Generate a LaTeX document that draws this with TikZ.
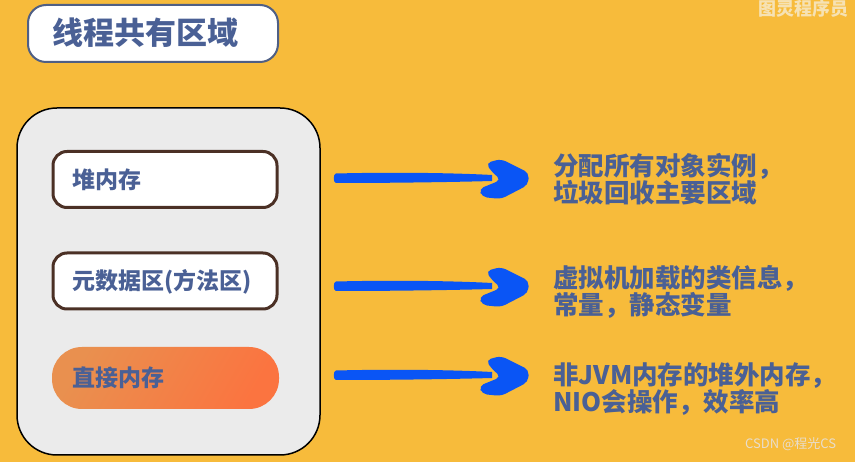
\documentclass[tikz,border=0pt]{standalone}
\usepackage{fontspec}
\newfontfamily\cjk{Noto Sans CJK SC}
\definecolor{bg}{HTML}{F7BB3B}
\definecolor{textblue}{HTML}{4A6095}
\definecolor{titleborder}{HTML}{4F5F85}
\definecolor{boxborder}{HTML}{4B3025}
\definecolor{poolgray}{HTML}{EBEBEB}
\definecolor{brushblue}{HTML}{0A55F5}
\definecolor{orangeA}{HTML}{E9904F}
\definecolor{orangeB}{HTML}{FB7440}
\definecolor{wmark}{HTML}{F6E2B4}
\definecolor{wmarkb}{HTML}{E8DDCB}
\tikzset{
  memlabel/.style={font=\cjk\bfseries\fontsize{23}{26}\selectfont, text=textblue},
  membox/.style={draw=boxborder, line width=3pt, fill=white, rounded corners=14pt,
     minimum width=224pt, minimum height=56pt, inner sep=0pt},
  desc/.style={font=\cjk\bfseries\fontsize{25.5}{27}\selectfont, text=textblue,
     align=left, anchor=west, inner sep=0pt},
  brusharrow/.pic={
    \fill[brushblue] (0,-4.5) .. controls (60,-6) and (120,-5) .. (156,-3)
        -- (156,3) .. controls (120,4) and (60,5) .. (0,5)
        .. controls (-3,5) and (-3,-4.5) .. (0,-4.5) -- cycle;
    \fill[brushblue, rounded corners=5pt] (150,-15) -- (165,-19) -- (193,-5) -- (192,7)
        -- (165,21) -- (146,19) -- (143,11) -- (165,2) -- (155,-7) -- cycle;
  }
}
\begin{document}
\begin{tikzpicture}[x=1pt,y=-1pt]
\useasboundingbox (0,0) rectangle (855,462);
\fill[bg] (0,0) rectangle (855,462);
% watermark top
\node[font=\cjk\bfseries\fontsize{18}{20}\selectfont, text=wmark, anchor=base west, inner sep=0pt] (wm1) at (758,16) {图灵程序员};
% title
\node[draw=titleborder, line width=2pt, fill=white, rounded corners=18pt,
      minimum width=250pt, minimum height=57pt, inner sep=0pt] (title) at (153,33.5) {};
\node[font=\cjk\bfseries\fontsize{31}{34}\selectfont, text=textblue, anchor=west, inner sep=0pt] (titletext) at (52,33) {线程共有区域};
% pool
\draw[fill=poolgray, line width=1.5pt, rounded corners=40pt] (17,108) rectangle (320,455);
\coordinate (pool) at (168,281);
% boxes
\node[membox] (heap) at (165,179.5) {};
\node[memlabel, anchor=west, inner sep=0pt] (heaptext) at (72,180) {堆内存};
\node[membox] (meta) at (165,281) {};
\node[memlabel, anchor=west, inner sep=0pt] (metatext) at (72,282) {元数据区(方法区)};
\shade[left color=orangeA, right color=orangeB, shading angle=60, rounded corners=30pt] (52,347) rectangle (279,409);
\coordinate (direct) at (165,378);
\node[memlabel, anchor=west, inner sep=0pt] (directtext) at (72,378) {直接内存};
% arrows
\coordinate (a1) at (336,178);
\coordinate (a2) at (336,286);
\coordinate (a3) at (336,375);
\pic at (a1) {brusharrow};
\pic at (a2) {brusharrow};
\pic at (a3) {brusharrow};
% descriptions
\node[desc] (d1) at (553,179) {分配所有对象实例，\\垃圾回收主要区域};
\node[desc] (d2) at (553,292) {虚拟机加载的类信息，\\常量，静态变量};
\node[desc] (d3) at (553,389) {非JVM内存的堆外内存，\\NIO会操作，效率高};
% watermark bottom
\node[font=\cjk\fontsize{13}{14}\selectfont, text=wmarkb, anchor=west, inner sep=0pt] (wm2) at (745,444) {CSDN @程光CS};
\end{tikzpicture}
\end{document}
